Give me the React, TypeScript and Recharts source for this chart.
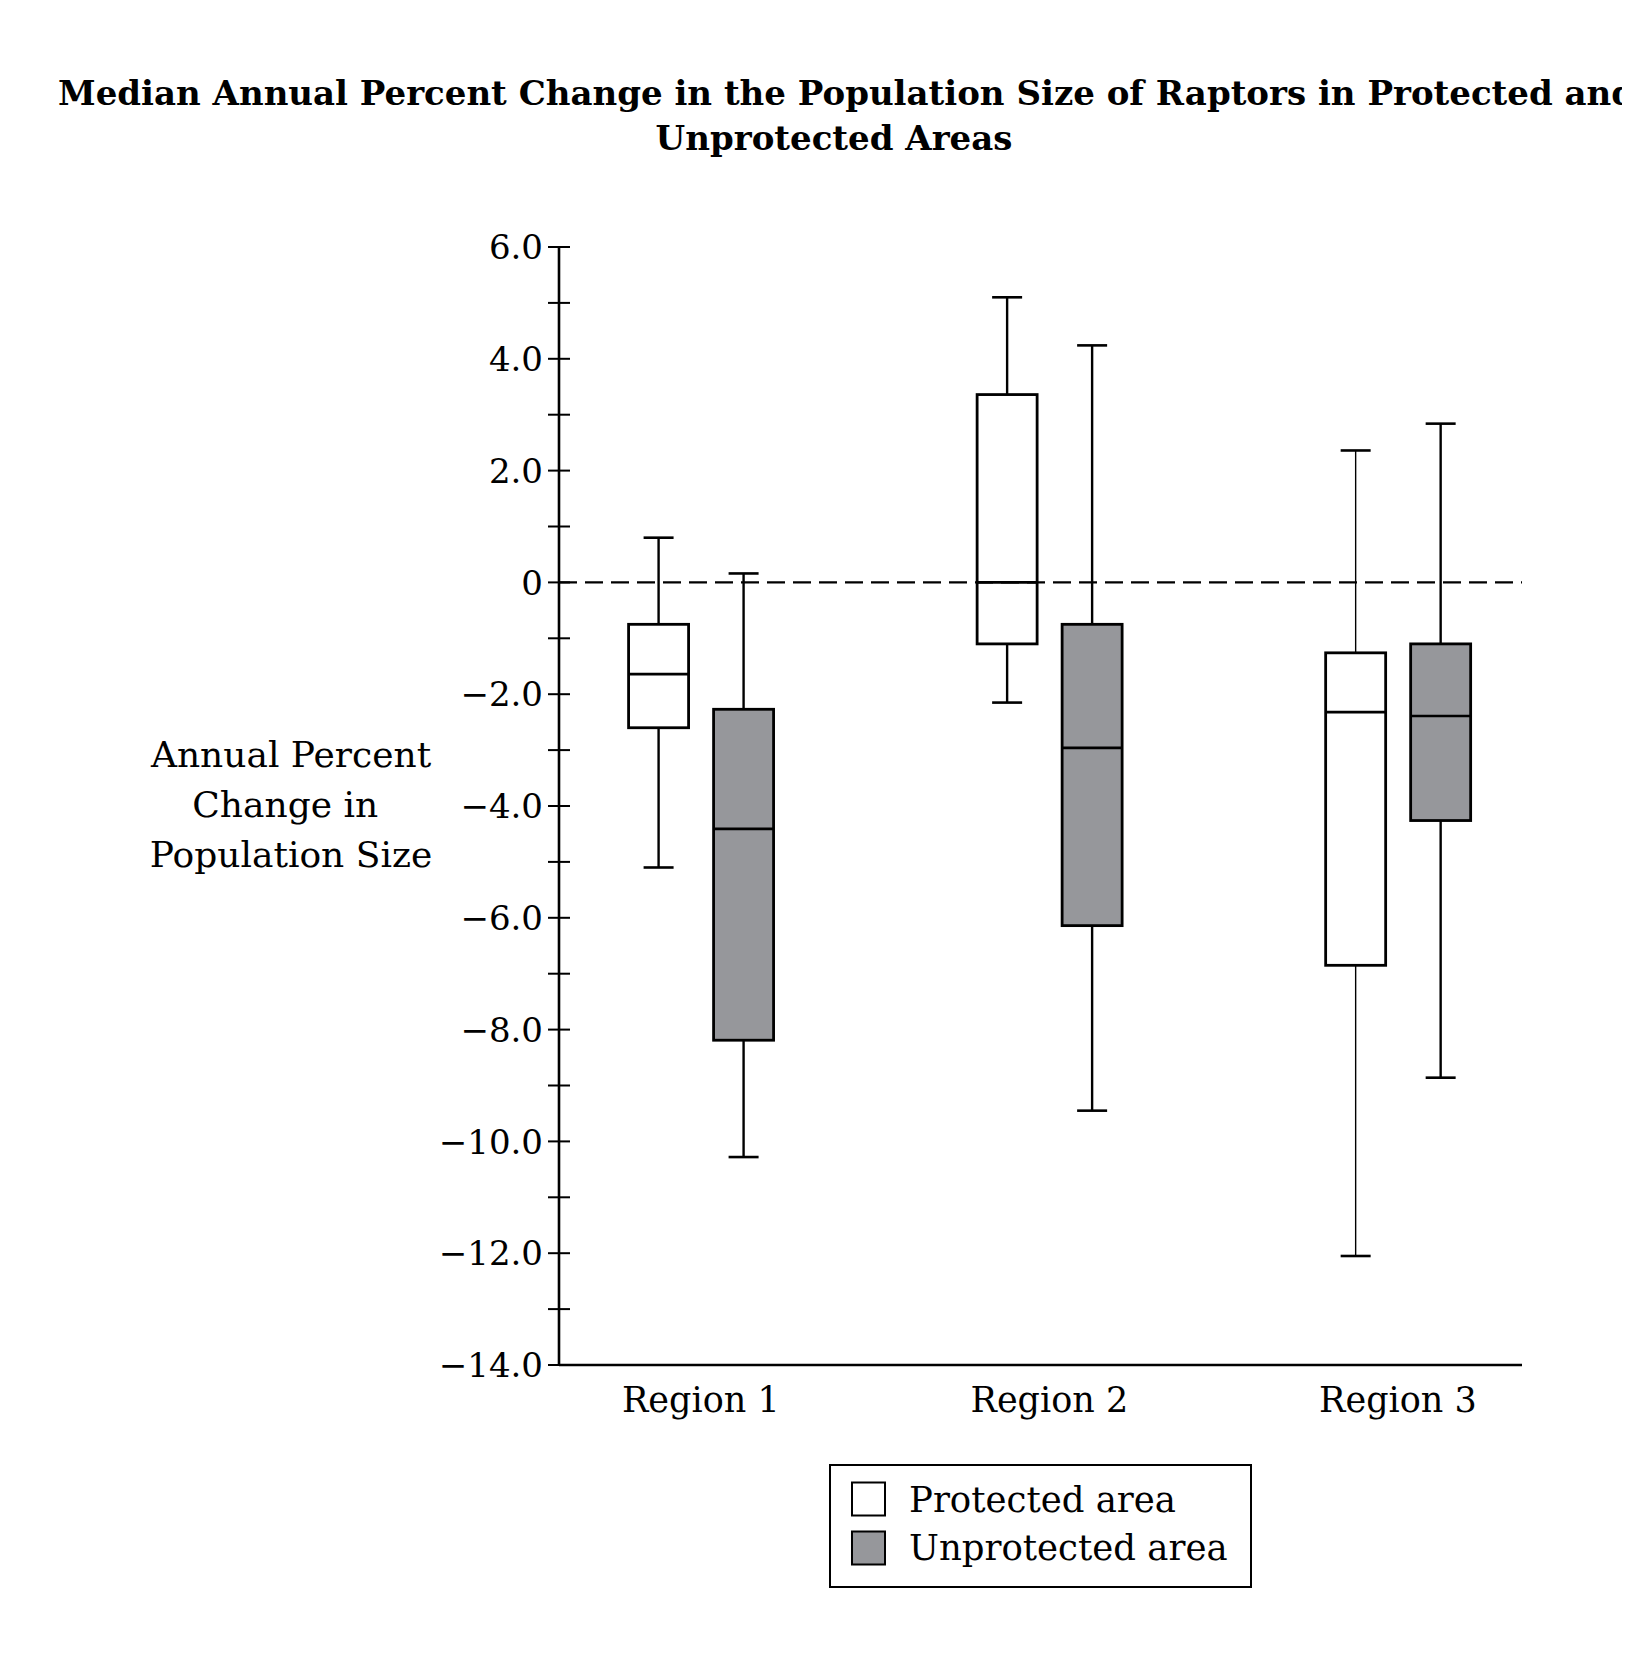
import React from 'react';
import { ComposedChart, Bar, XAxis, YAxis, ReferenceLine, Legend } from 'recharts';

const regions = ['Region 1', 'Region 2', 'Region 3'];
const regionPositions = [1, 2, 3];

const protectedMin = [-5.1, -2.15, -12.05];
const protectedQ1 = [-2.6, -1.1, -6.85];
const protectedMedian = [-1.64, 0, -2.32];
const protectedQ3 = [-0.75, 3.36, -1.26];
const protectedMax = [0.8, 5.1, 2.36];

const unprotectedMin = [-10.28, -9.45, -8.86];
const unprotectedQ1 = [-8.19, -6.14, -4.26];
const unprotectedMedian = [-4.41, -2.96, -2.39];
const unprotectedQ3 = [-2.27, -0.75, -1.1];
const unprotectedMax = [0.16, 4.24, 2.84];

const yTicks = [-14, -13, -12, -11, -10, -9, -8, -7, -6, -5, -4, -3, -2, -1, 0, 1, 2, 3, 4, 5, 6];
const legendLabels = ['Protected area', 'Unprotected area'];
const titleLines = [
  'Median Annual Percent Change in the Population Size of Raptors in Protected and',
  'Unprotected Areas',
];
const yLabelLines = ['Annual Percent', 'Change in ', 'Population Size'];

const GRAY = '#96979b';
const FONT = '"DejaVu Serif", serif';

const data = regions.map((region, i) => ({
  x: regionPositions[i],
  region,
  protectedRange: [protectedMin[i], protectedMax[i]],
  protectedQ1: protectedQ1[i],
  protectedMedian: protectedMedian[i],
  protectedQ3: protectedQ3[i],
  unprotectedRange: [unprotectedMin[i], unprotectedMax[i]],
  unprotectedQ1: unprotectedQ1[i],
  unprotectedMedian: unprotectedMedian[i],
  unprotectedQ3: unprotectedQ3[i],
}));

const formatY = (v: number) => {
  if (v === 0) return '0';
  if (v % 2 !== 0) return '';
  return (v < 0 ? '\u2212' : '') + Math.abs(v).toFixed(1);
};

const makeBoxShape = (prefix: 'protected' | 'unprotected', fill: string) => (props: any) => {
  const { x, y, width, height, payload, index } = props;
  const [lo, hi] = payload[prefix + 'Range'];
  const top = Math.min(y, y + height);
  const ppu = Math.abs(height) / (hi - lo);
  const yOf = (v: number) => top + (hi - v) * ppu;
  const cx = x + width / 2;
  const q1 = yOf(payload[prefix + 'Q1']);
  const q3 = yOf(payload[prefix + 'Q3']);
  const med = yOf(payload[prefix + 'Median']);
  // the region 3 protected whisker is drawn thinner in the original
  const whisker = prefix === 'protected' && index === 2 ? 1.4 : 2.4;
  return (
    <g>
      <line x1={cx} x2={cx} y1={yOf(hi)} y2={q3} stroke="#000" strokeWidth={whisker} />
      <line x1={cx} x2={cx} y1={q1} y2={yOf(lo)} stroke="#000" strokeWidth={whisker} />
      <line x1={cx - 15} x2={cx + 15} y1={yOf(hi)} y2={yOf(hi)} stroke="#000" strokeWidth={2.6} />
      <line x1={cx - 15} x2={cx + 15} y1={yOf(lo)} y2={yOf(lo)} stroke="#000" strokeWidth={2.6} />
      <rect x={x} y={q3} width={width} height={q1 - q3} fill={fill} stroke="#000" strokeWidth={2.8} />
      <line x1={x} x2={x + width} y1={med} y2={med} stroke="#000" strokeWidth={2.6} />
    </g>
  );
};

const YTick = (props: any) => {
  const { x, y, payload } = props;
  const label = formatY(payload.value);
  return (
    <g>
      <line x1={x - 11} x2={x + 11} y1={y} y2={y} stroke="#000" strokeWidth={2} />
      {label && (
        <text x={x - 16} y={y} dy="0.36em" textAnchor="end" fontSize={34} fill="#000" fontFamily={FONT}>
          {label}
        </text>
      )}
    </g>
  );
};

const XTick = (props: any) => {
  const { x, y, payload } = props;
  const i = regionPositions.indexOf(payload.value);
  return (
    <text x={x} y={y + 47} textAnchor="middle" fontSize={35} fill="#000" fontFamily={FONT}>
      {regions[i]}
    </text>
  );
};

const YLabel = () => (
  <g>
    {yLabelLines.map((line, i) => (
      <text
        key={i}
        x={283}
        y={759 + i * 50}
        textAnchor="middle"
        fontSize={36}
        fill="#000"
        fontFamily={FONT}
        style={{ whiteSpace: 'pre' }}
      >
        {line}
      </text>
    ))}
  </g>
);

const LegendBox = () => (
  <svg width={424} height={125} style={{ display: 'block' }}>
    <rect x={1} y={1} width={421} height={122} fill="#fff" stroke="#000" strokeWidth={2} />
    {legendLabels.map((label, i) => (
      <g key={label}>
        <rect
          x={23}
          y={18.5 + i * 49}
          width={33}
          height={33}
          fill={i === 0 ? '#fff' : GRAY}
          stroke="#000"
          strokeWidth={2}
        />
        <text x={80} y={48 + i * 48} fontSize={35.5} fill="#000" fontFamily={FONT}>
          {label}
        </text>
      </g>
    ))}
  </svg>
);

const App = () => {
  return (
    <div style={{ position: 'relative', width: 1614, height: 1640, overflow: 'hidden', background: '#fff', fontFamily: FONT }}>
      <svg width={1614} height={170} style={{ position: 'absolute', left: 0, top: 0 }}>
        <text x={50} y={97} fontSize={34} fontWeight="bold" fill="#000" fontFamily={FONT}>
          {titleLines[0]}
        </text>
        <text x={826} y={142} textAnchor="middle" fontSize={34} fontWeight="bold" fill="#000" fontFamily={FONT}>
          {titleLines[1]}
        </text>
      </svg>
      <ComposedChart
        width={1614}
        height={1640}
        data={data}
        margin={{ top: 239, right: 100, bottom: 223, left: 0 }}
        barGap={25}
      >
        <XAxis
          dataKey="x"
          type="number"
          domain={[0.593, 3.356]}
          ticks={regionPositions}
          allowDataOverflow
          axisLine={{ stroke: '#000', strokeWidth: 2.6 }}
          tickLine={false}
          tickSize={0}
          tickMargin={0}
          tick={<XTick />}
          height={60}
        />
        <YAxis
          type="number"
          domain={[-14, 6]}
          ticks={yTicks}
          interval={0}
          allowDataOverflow
          width={551}
          axisLine={{ stroke: '#000', strokeWidth: 2.6 }}
          tickLine={false}
          tickSize={0}
          tickMargin={0}
          tick={<YTick />}
          label={{ content: <YLabel /> }}
        />
        <ReferenceLine y={0} stroke="#000" strokeWidth={2.3} strokeDasharray="18 8" />
        <Bar
          dataKey="protectedRange"
          barSize={60}
          isAnimationActive={false}
          shape={makeBoxShape('protected', '#fff')}
        />
        <Bar
          dataKey="unprotectedRange"
          barSize={60}
          isAnimationActive={false}
          shape={makeBoxShape('unprotected', GRAY)}
        />
        <Legend
          layout="horizontal"
          verticalAlign="middle"
          align="center"
          content={<LegendBox />}
          wrapperStyle={{ position: 'absolute', left: 821, top: 1456, width: 424, height: 125 }}
        />
      </ComposedChart>
    </div>
  );
};

export default App;
